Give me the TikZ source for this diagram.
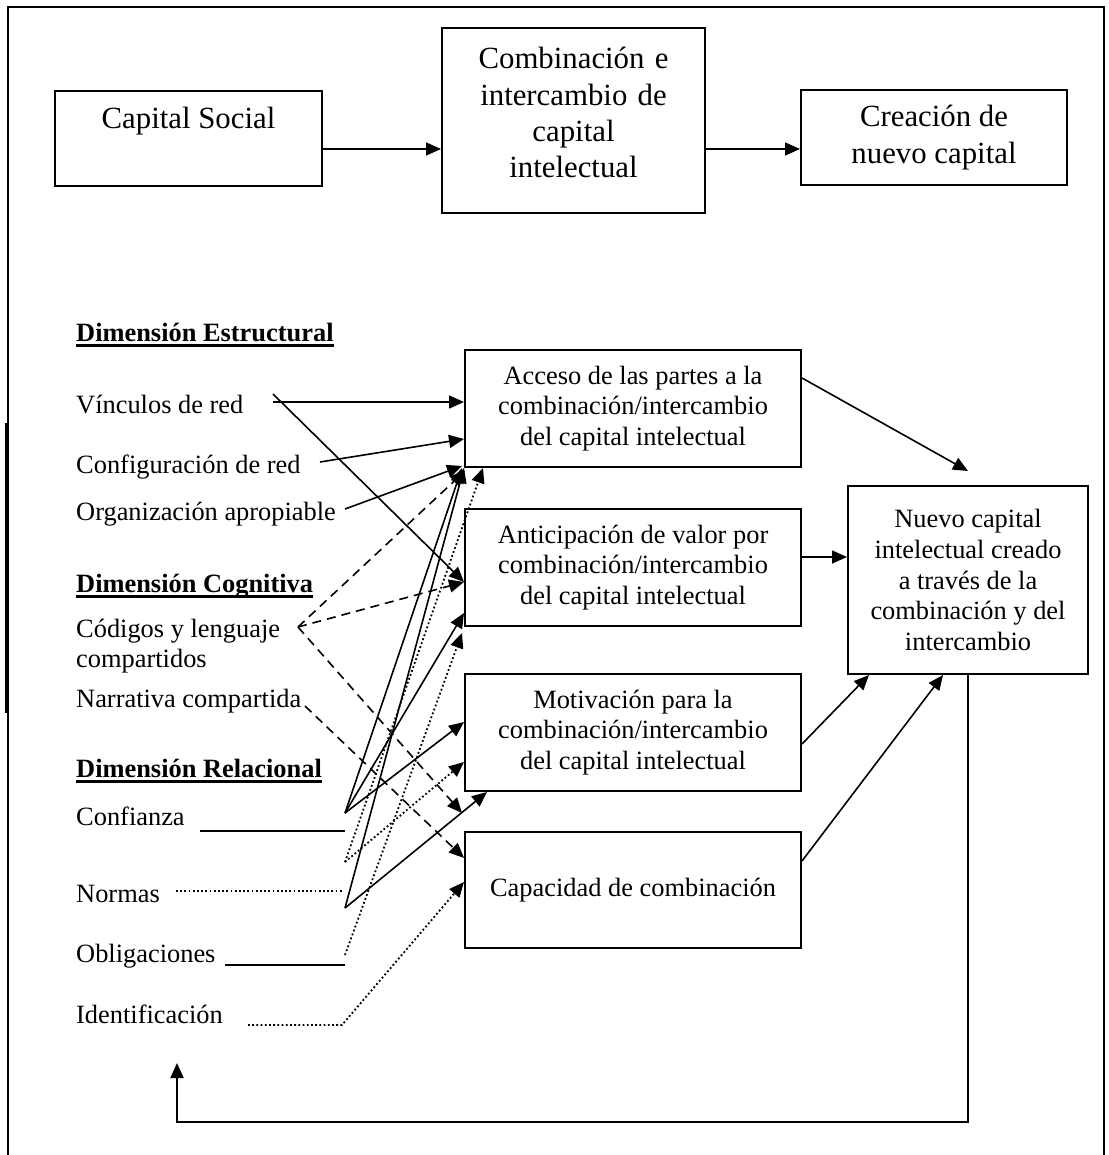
\documentclass[tikz,border=0pt]{standalone}
\usepackage{fontspec}
\setmainfont{Liberation Serif}
\usetikzlibrary{arrows.meta}

\begin{document}
\begin{tikzpicture}[x=1pt,y=-1pt,
  boxtext/.style={font=\fontsize{26.4}{30.6}\selectfont},
  box/.style={draw,line width=2pt,inner sep=0pt,align=center,boxtext},
  topbox/.style={draw,line width=2pt,inner sep=0pt,align=center,
                 font=\fontsize{30.8}{36.3}\selectfont},
  lbl/.style={anchor=base west,inner sep=0pt,boxtext},
  head/.style={anchor=base west,inner sep=0pt,
               font=\fontsize{26.4}{30.6}\selectfont\bfseries},
  uline/.style={line width=2.3pt},
  tip/.style={-{Triangle[length=15pt,width=13pt]}},
  conn/.style={line width=1.6pt},
  arr/.style={conn,tip},
  dsh/.style={arr,dash pattern=on 9pt off 6pt},
  dotline/.style={line width=1.8pt,dash pattern=on 1.8pt off 2.4pt},
  darr/.style={dotline,tip},
]
\useasboundingbox (0,0) rectangle (1108,1155);

% outer frame
\draw[line width=1.8pt] (8,1155) -- (8,7) -- (1104,7) -- (1104,1155);
\draw[line width=3pt] (6,423) -- (6,713);

% ---- upper chain ----
\node[topbox,anchor=north,minimum width=267pt,text height=38pt,text depth=57pt]
  (cs) at (188.5,90) {Capital Social};
\node[topbox,anchor=north,text width=263pt,text height=41pt,text depth=144pt]
  (comb) at (573.5,27) {Combinación e\\intercambio de\\capital\\intelectual};
\node[topbox,minimum width=266pt,minimum height=95pt] (crea) at (934,137.5)
  {Creación de\\nuevo capital};

\draw[arr] (cs.east |- 0,149) -- (comb.west |- 0,149);
\draw[arr] (comb.east |- 0,149) -- (crea.west |- 0,149);

% ---- lower model: boxes ----
\node[box,minimum width=336pt,minimum height=117pt] (acc) at (633,408.5)
  {Acceso de las partes a la\\combinación/intercambio\\del capital intelectual};
\node[box,minimum width=336pt,minimum height=117pt] (ant) at (633,567.5)
  {Anticipación de valor por\\combinación/intercambio\\del capital intelectual};
\node[box,minimum width=336pt,minimum height=117pt] (mot) at (633,732.5)
  {Motivación para la\\combinación/intercambio\\del capital intelectual};
\node[box,minimum width=336pt,minimum height=116pt] (cap) at (633,890)
  {Capacidad de combinación};
\node[box,minimum width=240pt,minimum height=188pt] (nue) at (968,580)
  {Nuevo capital\\intelectual creado\\a través de la\\combinación y del\\intercambio};

% ---- lower model: dimension labels ----
\node[head] (dest) at (76,341) {Dimensión Estructural};
\draw[uline] ([yshift=-4.5pt]dest.base west) -- ([yshift=-4.5pt]dest.base east);
\node[lbl] (vin) at (76,413) {Vínculos de red};
\node[lbl] (cfg) at (76,473) {Configuración de red};
\node[lbl] (org) at (76,520) {Organización apropiable};

\node[head] (dcog) at (76,592) {Dimensión Cognitiva};
\draw[uline] ([yshift=-4.5pt]dcog.base west) -- ([yshift=-4.5pt]dcog.base east);
\node[lbl] (cod) at (76,637) {Códigos y lenguaje};
\node[lbl] (codb) at (76,667) {compartidos};
\node[lbl] (nar) at (76,707) {Narrativa compartida};

\node[head] (drel) at (76,777) {Dimensión Relacional};
\draw[uline] ([yshift=-4.5pt]drel.base west) -- ([yshift=-4.5pt]drel.base east);
\node[lbl] (conf) at (76,825) {Confianza};
\node[lbl] (norm) at (76,902) {Normas};
\node[lbl] (obl) at (76,962) {Obligaciones};
\node[lbl] (iden) at (76,1023) {Identificación};

% line stubs after the relational labels
\draw[line width=2pt] (200,831) -- (345,831);
\draw[dotline] (176,891) -- (342,891);
\draw[line width=2pt] (225,965) -- (345,965);

% start points and fan vertices
\coordinate (vinA) at (273,402);
\coordinate (vinB) at (273,394);
\coordinate (cfgA) at (320,462);
\coordinate (orgA) at (345,509);
\coordinate (codV) at (298,627);
\coordinate (narV) at (305,706);
\coordinate (vA) at (345,813);
\coordinate (vB) at (345,908);
\coordinate (vC) at (345,862);
\coordinate (vD) at (345,955);
\coordinate (idA) at (248,1025);
\coordinate (idB) at (342,1025);

% structural dimension
\draw[arr] (vinA) -- (acc.west |- vinA);
\draw[arr] (vinB) -- (ant.west |- 0,582);
\draw[arr] (cfgA) -- (acc.west |- 0,439);
\draw[arr] (orgA) -- ([shift={(-2,-2)}]acc.south west);

% cognitive dimension
\draw[dsh] (codV) -- ([shift={(1,3)}]acc.south west);
\draw[dsh] (codV) -- (ant.west |- 0,582);
\draw[dsh] (codV) -- ([shift={(-2,21)}]mot.south west);
\draw[dsh] (narV) -- (cap.west |- 0,858);

% relational dimension, solid
\draw[arr] (vA) -- ([xshift=-2pt]acc.south west);
\draw[arr] (vA) -- (ant.west |- 0,613);
\draw[arr] (vA) -- (mot.west |- 0,722);
\draw[arr] (vB) -- (acc.south west);
\draw[arr] (vB) -- ([xshift=23pt]mot.south west);

% relational dimension, dotted
\draw[darr] (vC) -- ([xshift=19pt]acc.south west);
\draw[darr] (vC) -- (mot.west |- 0,762);
\draw[darr] (vD) -- ([shift={(-2,6)}]ant.south west);
\draw[darr] (idA) -- (idB) -- (cap.west |- 0,882);

% into the result box
\draw[arr] (acc.east |- 0,378) -- ([yshift=14pt]nue.north);
\draw[arr] (ant.east |- 0,557) -- (nue.west |- 0,557);
\draw[arr] (mot.east |- 0,744) -- ([xshift=22pt]nue.south west);
\draw[arr] (cap.east |- 0,861) -- ([xshift=96pt]nue.south west);

% feedback loop
\coordinate (fb) at (177,1063);
\draw[line width=2pt,tip] (nue.south) -- (nue.south |- 0,1122) -- (fb |- 0,1122) -- (fb);
\end{tikzpicture}
\end{document}
